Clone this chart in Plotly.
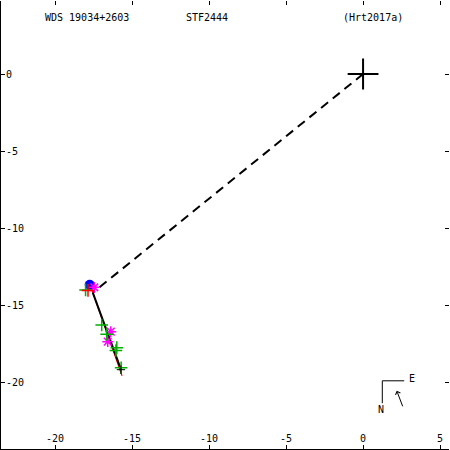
import plotly.graph_objects as go

# ---- data (arcsec offsets) ----
primary_x = [0.0]
primary_y = [0.0]

connector_x = [0.0, -17.55]
connector_y = [0.0, -14.2]

path_x = [-17.55, -15.7]
path_y = [-14.2, -19.25]

fit_x = [-17.6, -15.65]
fit_y = [-14.05, -19.6]

green_x = [-18.02, -16.97, -16.65, -15.99, -16.05, -15.71]
green_y = [-14.02, -16.30, -16.90, -17.77, -17.95, -19.07]

red_x = [-17.86]
red_y = [-14.05]

magenta_x = [-17.45, -16.38, -16.58]
magenta_y = [-13.85, -16.73, -17.38]

blue_x = [-17.75]
blue_y = [-13.68]

end_x = [-15.72]
end_y = [-19.2]

xticks = [-20, -15, -10, -5, 0, 5]
yticks = [0, -5, -10, -15, -20]

title_left = "WDS 19034+2603"
title_mid = "STF2444"
title_right = "(Hrt2017a)"

XR = [-23.51, 5.58]
YR = [-24.35, 4.74]
FONT = "DejaVu Sans Mono"

fig = go.Figure()

fig.add_trace(go.Scatter(x=connector_x, y=connector_y, mode="lines",
                         line=dict(color="black", width=2, dash="9px,6px"),
                         hoverinfo="skip"))
fig.add_trace(go.Scatter(x=fit_x, y=fit_y, mode="lines",
                         line=dict(color="red", width=1.2), hoverinfo="skip"))
fig.add_trace(go.Scatter(x=blue_x, y=blue_y, mode="markers",
                         marker=dict(symbol="circle", size=10, color="blue"),
                         hoverinfo="skip"))
fig.add_trace(go.Scatter(x=path_x, y=path_y, mode="lines",
                         line=dict(color="black", width=2), hoverinfo="skip"))
fig.add_trace(go.Scatter(x=magenta_x, y=magenta_y, mode="markers",
                         marker=dict(symbol="asterisk-open", size=9, color="magenta",
                                     line=dict(color="magenta", width=1.5)),
                         hoverinfo="skip"))
fig.add_trace(go.Scatter(x=green_x, y=green_y, mode="markers",
                         marker=dict(symbol="cross-thin-open", size=9, color="#00b000",
                                     line=dict(color="#00b000", width=1.5)),
                         hoverinfo="skip"))
fig.add_trace(go.Scatter(x=red_x, y=red_y, mode="markers",
                         marker=dict(symbol="cross-thin-open", size=9, color="red",
                                     line=dict(color="red", width=1.5)),
                         hoverinfo="skip"))
fig.add_trace(go.Scatter(x=end_x, y=end_y, mode="markers",
                         marker=dict(symbol="cross-thin-open", size=6, color="black",
                                     line=dict(color="black", width=1)),
                         hoverinfo="skip"))
fig.add_trace(go.Scatter(x=primary_x, y=primary_y, mode="markers",
                         marker=dict(symbol="cross-thin-open", size=22, color="black",
                                     line=dict(color="black", width=2)),
                         hoverinfo="skip"))
# invisible trace so the mirrored (tick-only) axes are drawn
fig.add_trace(go.Scatter(x=primary_x, y=primary_y, xaxis="x2", yaxis="y2",
                         mode="markers", marker=dict(opacity=0),
                         hoverinfo="skip"))

axis_common = dict(showgrid=False, zeroline=False, ticks="inside", ticklen=4,
                   tickcolor="black", tickwidth=1,
                   tickfont=dict(family=FONT, size=10, color="black"))

fig.update_layout(
    width=450, height=450,
    margin=dict(l=1, r=1, t=1, b=1),
    paper_bgcolor="white", plot_bgcolor="white",
    showlegend=False,
    xaxis=dict(range=XR, tickvals=xticks, ticktext=[str(v) for v in xticks],
               showline=True, linecolor="black", linewidth=2,
               ticklabelposition="inside", **axis_common),
    yaxis=dict(range=YR, tickvals=yticks, ticktext=[str(v) for v in yticks],
               showline=True, linecolor="black", linewidth=2,
               ticklabelposition="inside", **axis_common),
    xaxis2=dict(range=XR, tickvals=xticks, overlaying="x", side="top",
                showline=False, showticklabels=False, **axis_common),
    yaxis2=dict(range=YR, tickvals=yticks, overlaying="y", side="right",
                showline=False, showticklabels=False, **axis_common),
)

def px(xp):
    return xp / 450.0

def py(yp):
    return 1 - yp / 450.0

for txt, xc in [(title_left, 86), (title_mid, 207), (title_right, 374)]:
    fig.add_annotation(x=px(xc), y=py(16.5), xref="paper", yref="paper",
                       xanchor="center", yanchor="middle",
                       text=txt, showarrow=False,
                       font=dict(family=FONT, size=10, color="black"))

# orientation indicator (N / E)
fig.add_shape(type="line", xref="paper", yref="paper",
              x0=px(383), y0=py(381.5), x1=px(405), y1=py(381.5),
              line=dict(color="black", width=1))
fig.add_shape(type="line", xref="paper", yref="paper",
              x0=px(383), y0=py(381.5), x1=px(383), y1=py(404),
              line=dict(color="black", width=1))
fig.add_annotation(x=px(413), y=py(379.5), xref="paper", yref="paper",
                   xanchor="center", yanchor="middle",
                   text="E", showarrow=False,
                   font=dict(family=FONT, size=10, color="black"))
fig.add_annotation(x=px(382), y=py(410.5), xref="paper", yref="paper",
                   xanchor="center", yanchor="middle",
                   text="N", showarrow=False,
                   font=dict(family=FONT, size=10, color="black"))
fig.add_annotation(x=px(397.5), y=py(391.5), ax=6.5, ay=17,
                   xref="paper", yref="paper", axref="pixel", ayref="pixel",
                   text="", showarrow=True, arrowhead=4, arrowsize=1,
                   arrowwidth=1, arrowcolor="black")

fig.write_html("out.html", config={"displayModeBar": False, "staticPlot": True},
               post_script="document.body.style.margin='0';document.body.style.overflow='hidden';")
